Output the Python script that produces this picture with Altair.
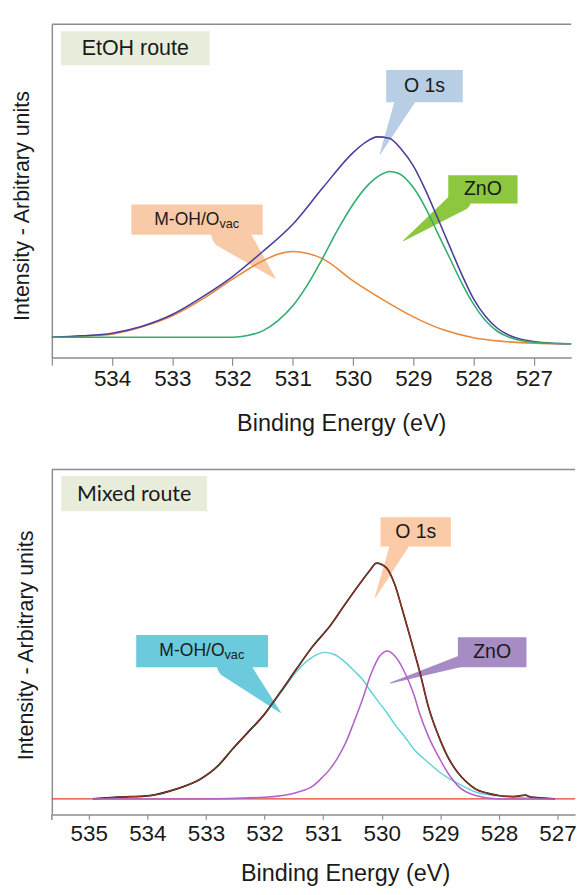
import altair as alt
import pandas as pd

# ---------------- data (binding energy in eV, intensity in arbitrary units) -------------
# EtOH route (top panel)
top_o1s_e = [535.0, 534.5, 534.0, 533.5, 533.0, 532.5, 532.0, 531.5, 531.0, 530.5, 530.0, 529.8,
             529.6, 529.4, 529.2, 529.0, 528.8, 528.6, 528.4, 528.2, 528.0, 527.8, 527.6, 527.4,
             527.2, 527.0, 526.7, 526.38]
top_o1s_v = [6.1, 6.5, 7.3, 9.4, 12.9, 18.2, 24.3, 31.8, 40.0, 51.0, 61.5, 64.5,
             66.2, 65.8, 62.5, 57.5, 50.3, 42.0, 33.5, 25.1, 17.6, 12.3, 8.7, 6.6,
             5.4, 4.8, 4.3, 4.1]

top_zno_e = [535.0, 532.0, 531.75, 531.5, 531.25, 531.0, 530.75, 530.5, 530.25, 530.0, 529.75,
             529.5, 529.4, 529.25, 529.0, 528.8, 528.6, 528.4, 528.2, 528.0, 527.8, 527.6, 527.4,
             527.2, 527.0, 526.38]
top_zno_v = [6.1, 6.1, 6.6, 8.0, 11.0, 15.5, 22.0, 30.0, 38.5, 46.0, 51.8,
             55.2, 55.8, 55.3, 51.0, 45.0, 37.5, 30.0, 22.5, 16.0, 11.0, 7.8, 6.0,
             5.0, 4.6, 4.1]

top_moh_e = [535.0, 534.5, 534.0, 533.5, 533.0, 532.5, 532.0, 531.5, 531.25, 531.0, 530.75,
             530.5, 530.0, 529.5, 529.0, 528.5, 528.0, 527.5, 527.0, 526.38]
top_moh_v = [6.1, 6.4, 7.0, 9.2, 12.5, 17.5, 23.5, 29.0, 31.0, 31.8, 31.2,
             29.6, 23.0, 17.3, 12.2, 8.3, 5.9, 4.8, 4.3, 4.1]

# Mixed route (bottom panel)
bot_o1s_e = [534.93, 534.5, 533.95, 533.5, 533.1, 532.8, 532.56, 532.3, 532.0, 531.72, 531.45,
             531.17, 530.89, 530.62, 530.34, 530.2, 530.09, 529.92, 529.78, 529.65, 529.5, 529.35,
             529.2, 529.0, 528.85, 528.7, 528.55, 528.4, 528.2, 528.0, 527.75, 527.55, 527.45,
             527.3, 527.05]
bot_o1s_v = [4.5, 5.0, 5.5, 7.4, 10.2, 14.0, 18.7, 23.5, 29.1, 35.7, 42.3,
             48.9, 54.5, 61.1, 67.7, 70.8, 72.9, 71.5, 66.8, 59.5, 50.5, 41.3,
             31.0, 21.5, 16.0, 12.1, 9.4, 7.4, 6.2, 5.5, 5.2, 5.6, 5.0,
             4.8, 4.5]

bot_moh_e = [534.93, 534.5, 533.95, 533.5, 533.1, 532.8, 532.56, 532.3, 532.0, 531.72, 531.45,
             531.25, 531.1, 530.98, 530.8, 530.62, 530.45, 530.34, 530.2, 530.06, 529.9, 529.78,
             529.6, 529.45, 529.2, 529.0, 528.7, 528.4, 528.1, 527.8, 527.4, 527.05]
bot_moh_v = [4.5, 5.0, 5.5, 7.4, 10.2, 14.0, 18.7, 23.5, 29.1, 35.4, 41.5,
             44.8, 46.4, 47.0, 46.3, 44.1, 41.3, 39.4, 36.0, 32.8, 29.2, 26.2,
             22.4, 18.9, 15.0, 12.1, 9.0, 6.5, 5.6, 5.1, 4.7, 4.5]

bot_zno_e = [534.93, 533.1, 532.0, 531.45, 531.17, 531.0, 530.89, 530.75, 530.62, 530.48, 530.34,
             530.17, 530.03, 529.9, 529.78, 529.61, 529.45, 529.35, 529.2, 529.0, 528.85, 528.7,
             528.4, 528.0, 527.05]
bot_zno_v = [4.5, 4.5, 5.0, 6.4, 8.3, 11.0, 13.0, 16.5, 20.6, 26.5, 32.8,
             41.3, 46.0, 47.4, 46.0, 41.3, 34.7, 29.1, 22.5, 15.8, 11.5, 8.3,
             5.5, 4.5, 4.5]

bot_base_e = [535.63, 526.70]
bot_base_v = [4.5, 4.5]

top_ticks = [535, 534, 533, 532, 531, 530, 529, 528, 527]
bot_ticks = [535, 534, 533, 532, 531, 530, 529, 528, 527]

# callouts: (text, e_left, e_right, v_top, v_bottom, fill, (base_e, base_v, base_px, tip_e, tip_v))
top_notes = [
    ("O 1s", 529.45, 528.18, 86.3, 76.6, "#b7cee4", (529.12, 78.0, 21, 529.55, 61.1)),
    ("ZnO", 528.42, 527.27, 54.7, 46.2, "#8dc63f", (528.22, 47.2, 22, 529.16, 35.1)),
    ("M-OH/O|vac", 533.68, 531.50, 45.9, 36.8, "#f9caa8", (532.05, 37.6, 38, 531.29, 23.7)),
]
bot_notes = [
    ("O 1s", 530.02, 528.82, 86.2, 77.7, "#fbcba8", (529.69, 78.6, 19, 530.11, 63.0)),
    ("M-OH/O|vac", 534.19, 531.94, 52.0, 42.7, "#6ccadd", (532.55, 43.6, 32, 531.73, 29.6)),
    ("ZnO", 528.70, 527.53, 51.4, 42.7, "#a78bc5", (528.62, 44.6, 12, 529.85, 38.1)),
]
top_route = ("EtOH route", 534.85, 532.38, 97.9, 87.7)
bot_route = ("Mixed route", 535.47, 532.98, 98.1, 87.9)

FONT = "Liberation Sans"
FRAME = "#8c8c8c"
TXT = "#1a1a1a"


def panel(dom, ticks, hide_first, cfg, notes, route, route_font, width, height):
    xs = alt.Scale(domain=dom, reverse=True, nice=False, zero=False)
    ys = alt.Scale(domain=[0, 100], nice=False, zero=False)
    label_expr = ("datum.value == %d ? '' : datum.label" % ticks[0]) if hide_first else "datum.label"
    xa = alt.Axis(values=ticks, format="d", title="Binding Energy (eV)", grid=False,
                  domainColor=FRAME, domainWidth=1.5, tickColor=FRAME, tickWidth=1.2,
                  tickSize=cfg["ticksize"], labelPadding=cfg["labelpad"],
                  labelFont=FONT, labelFontSize=23, labelColor=TXT, labelExpr=label_expr,
                  titleFont=FONT, titleFontSize=24, titleFontWeight="normal", titleColor=TXT,
                  titlePadding=cfg["titlepad"], titleX=cfg["titlex"],
                  labelFlush=False, labelOverlap=False)
    ya = alt.Axis(labels=False, ticks=False, grid=False, domainColor=FRAME, domainWidth=1.5,
                  title="Intensity - Arbitrary units", titleFont=FONT, titleFontSize=22,
                  titleFontWeight="normal", titleColor=TXT, titlePadding=cfg["ytitlepad"],
                  titleY=cfg["titley"])

    layers = []
    # top frame line and short extension of the left frame below the x axis
    layers.append(alt.Chart(pd.DataFrame({"v": [100]})).mark_rule(color=FRAME, strokeWidth=1.5)
                  .encode(y=alt.Y("v:Q", scale=ys, axis=ya)))
    layers.append(alt.Chart(pd.DataFrame({"e": [dom[1]], "v1": [0], "v2": [-cfg["ext"]]}))
                  .mark_rule(color=FRAME, strokeWidth=1.5)
                  .encode(x=alt.X("e:Q", scale=xs, axis=xa), y=alt.Y("v1:Q", scale=ys), y2="v2:Q"))
    # route label
    rdf = pd.DataFrame({"e1": [route[1]], "e2": [route[2]], "v1": [route[3]], "v2": [route[4]],
                        "t": [route[0]], "ec": [(route[1] + route[2]) / 2],
                        "vc": [(route[3] + route[4]) / 2]})
    layers.append(alt.Chart(rdf).mark_rect(color="#e7edda").encode(
        x=alt.X("e1:Q", scale=xs), x2="e2:Q", y=alt.Y("v1:Q", scale=ys), y2="v2:Q"))
    layers.append(alt.Chart(rdf).mark_text(font=route_font, fontSize=22, color=TXT, baseline="middle")
                  .encode(x=alt.X("ec:Q", scale=xs), y=alt.Y("vc:Q", scale=ys), text="t:N"))
    # callouts
    for (txt, e1, e2, v1, v2, fill, ptr) in notes:
        be, bv, bw, te, tv = ptr
        pdf = pd.DataFrame({"e": [be, te], "v": [bv, tv], "w": [bw, 0], "k": [0, 1]})
        layers.append(alt.Chart(pdf).mark_trail(color=fill, opacity=1).encode(
            x=alt.X("e:Q", scale=xs), y=alt.Y("v:Q", scale=ys),
            size=alt.Size("w:Q", scale=None, legend=None),
            order=alt.Order("k:Q")))
        bdf = pd.DataFrame({"e1": [e1], "e2": [e2], "v1": [v1], "v2": [v2]})
        layers.append(alt.Chart(bdf).mark_rect(color=fill).encode(
            x=alt.X("e1:Q", scale=xs), x2="e2:Q", y=alt.Y("v1:Q", scale=ys), y2="v2:Q"))
        ec, vc = (e1 + e2) / 2, (v1 + v2) / 2
        if "|" in txt:
            main, sub = txt.split("|")
            layers.append(alt.Chart(pd.DataFrame({"e": [ec], "v": [vc], "t": [main]})).mark_text(
                font=FONT, fontSize=18, color=TXT, align="right", baseline="middle", dx=23).encode(
                x=alt.X("e:Q", scale=xs), y=alt.Y("v:Q", scale=ys), text="t:N"))
            layers.append(alt.Chart(pd.DataFrame({"e": [ec], "v": [vc], "t": [sub]})).mark_text(
                font=FONT, fontSize=13, color=TXT, align="left", baseline="middle", dx=23, dy=4).encode(
                x=alt.X("e:Q", scale=xs), y=alt.Y("v:Q", scale=ys), text="t:N"))
        else:
            layers.append(alt.Chart(pd.DataFrame({"e": [ec], "v": [vc], "t": [txt]})).mark_text(
                font=FONT, fontSize=20, color=TXT, align="center", baseline="middle").encode(
                x=alt.X("e:Q", scale=xs), y=alt.Y("v:Q", scale=ys), text="t:N"))
    # spectra lines
    for (e, v, col, w) in cfg["lines"]:
        df = pd.DataFrame({"e": e, "v": v})
        layers.append(alt.Chart(df).mark_line(color=col, strokeWidth=w, interpolate="monotone").encode(
            x=alt.X("e:Q", scale=xs), y=alt.Y("v:Q", scale=ys),
            order=alt.Order("e:Q", sort="descending")))
    return alt.layer(*layers).properties(width=width, height=height)


top_cfg = {
    "ticksize": 8, "labelpad": 3, "titlepad": 22, "titlex": 297, "ytitlepad": 19, "titley": 186,
    "ext": 0.1,
    "lines": [
        (top_moh_e, top_moh_v, "#e6893b", 1.6),
        (top_o1s_e, top_o1s_v, "#4b3d9e", 1.6),
        (top_zno_e, top_zno_v, "#2fae6e", 1.6),
    ],
}
bot_cfg = {
    "ticksize": 5, "labelpad": 4, "titlepad": 17, "titlex": 301, "ytitlepad": 15, "titley": 180,
    "ext": 1.6,
    "lines": [
        (bot_base_e, bot_base_v, "#e04030", 1.2),
        (bot_moh_e, bot_moh_v, "#62d2d6", 1.5),
        (bot_o1s_e, bot_o1s_v, "#2a1812", 1.8),
        (bot_o1s_e, bot_o1s_v, "#c8402c", 0.8),
        (bot_zno_e, bot_zno_v, "#b463c9", 1.6),
    ],
}

top = panel([526.38, 535.0], top_ticks, True, top_cfg, top_notes, top_route, FONT, 533, 342)
bottom = panel([526.70, 535.63], bot_ticks, False, bot_cfg, bot_notes, bot_route, "Lato", 537, 354)

chart = alt.vconcat(top, bottom, spacing=34).properties(
    padding={"left": 3, "top": 4, "right": 0, "bottom": 0},
    background="white",
).configure_view(stroke=None)

chart.save("out.html", embed_options={"renderer": "svg", "actions": False})
